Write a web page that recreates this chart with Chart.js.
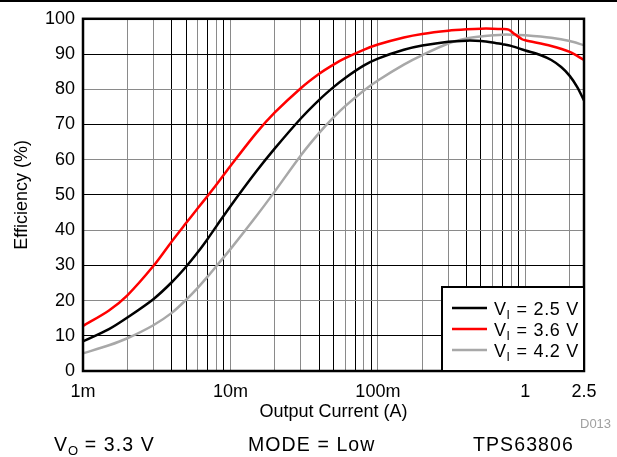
<!DOCTYPE html>
<html>
<head>
<meta charset="utf-8">
<script src="https://cdn.jsdelivr.net/npm/chart.js@4/dist/chart.umd.min.js"></script>
<style>
  html, body { margin: 0; padding: 0; background: #fff; }
  #wrap { position: relative; width: 617px; height: 457px; overflow: hidden; font-family: "Liberation Sans", Arial, sans-serif; }
  #c { position: absolute; left: 0; top: 0; }
  .rule { position: absolute; left: 0; top: 0; width: 617px; height: 2px; background: #000; }
  .cap { position: absolute; font-size: 19.5px; letter-spacing: 1.1px; color: #000; white-space: nowrap; line-height: 20px; }
  .cap sub { font-size: 13px; vertical-align: -4px; line-height: 0; letter-spacing: 0; }
  .code { position: absolute; font-size: 13px; color: #a0a0a0; left: 580px; top: 416px; }
</style>
</head>
<body>
<div id="wrap">
  <canvas id="c" width="617" height="457"></canvas>
  <div class="rule"></div>
  <div class="code">D013</div>
  <div class="cap" style="left:54px; top:434px;">V<sub>O</sub> = 3.3 V</div>
  <div class="cap" style="left:248px; top:434px;">MODE = Low</div>
  <div class="cap" style="left:473px; top:434px;">TPS63806</div>
</div>
<script>
// ---- Data ----
const inputVoltages = ['2.5', '3.6', '4.2'];

const currentVi25 = [0.001,0.0015,0.002,0.003,0.004,0.005,0.006,0.007,0.008,0.01,0.015,0.02,0.03,0.04,0.05,0.06,0.08,0.1,0.15,0.2,0.3,0.4,0.5,0.6,0.7,0.8,1,1.25,1.5,1.75,2,2.25,2.5];
const effVi25     = [8.4,11.9,15.2,20.4,25.2,29.6,33.7,37.5,41.0,46.8,56.7,63.2,71.7,77.0,80.6,83.2,86.7,88.7,91.2,92.4,93.5,93.8,93.7,93.3,92.8,92.3,91.0,89.8,88.3,86.3,83.8,80.6,76.8];

const currentVi36 = [0.001,0.0015,0.002,0.003,0.004,0.005,0.006,0.007,0.008,0.01,0.015,0.02,0.03,0.04,0.05,0.06,0.08,0.1,0.15,0.2,0.3,0.4,0.5,0.6,0.7,0.77,0.85,0.95,1,1.5,2,2.5];
const effVi36     = [12.8,17.2,21.5,29.8,36.8,42.0,46.2,49.7,52.8,58.2,67.6,73.4,80.3,84.4,87.0,88.8,91.2,92.7,94.7,95.7,96.6,97.0,97.2,97.2,97.1,96.9,95.6,94.2,93.9,92.3,90.6,88.3];

const currentVi42 = [0.001,0.0015,0.002,0.003,0.004,0.005,0.006,0.007,0.008,0.01,0.015,0.02,0.03,0.04,0.05,0.06,0.08,0.1,0.15,0.2,0.3,0.4,0.5,0.6,0.7,0.8,1,1.5,2,2.5];
const effVi42     = [5.0,7.3,9.3,13.0,16.5,20.2,23.6,26.8,29.7,34.6,44.0,51.0,61.2,67.6,72.0,75.2,79.6,82.5,87.0,89.7,93.0,94.4,95.0,95.3,95.5,95.5,95.3,94.6,93.7,92.5];

const xGridValues = [0.001,0.002,0.003,0.004,0.005,0.006,0.007,0.008,0.009,
                     0.01,0.02,0.03,0.04,0.05,0.06,0.07,0.08,0.09,
                     0.1,0.2,0.3,0.4,0.5,0.6,0.7,0.8,0.9,
                     1,2,2.5];
const xTickValues = [0.001, 0.01, 0.1, 1, 2.5];
const xTickLabels = ['1m', '10m', '100m', '1', '2.5'];

const seriesColors = ['#000000', '#ff0000', '#a8a8a8'];

const FONT = '"Liberation Sans", Arial, sans-serif';

function toXY(xs, ys) { return xs.map((x, i) => ({ x: x, y: ys[i] })); }

function mantissa(v) {
  const m = v / Math.pow(10, Math.floor(Math.log10(v) + 1e-9));
  return Math.round(m * 10) / 10;
}

const frameAndLegend = {
  id: 'frameAndLegend',
  afterDatasetsDraw(chart) {
    const ctx = chart.ctx;
    const a = chart.chartArea;
    ctx.save();
    ctx.strokeStyle = '#000';
    ctx.lineWidth = 2.5;
    ctx.strokeRect(a.left, a.top, a.right - a.left, a.bottom - a.top);
    const bx = 442, by = 287, bw = a.right - 442, bh = a.bottom - 287;
    ctx.fillStyle = '#fff';
    ctx.fillRect(bx, by, bw, bh);
    ctx.lineWidth = 2;
    ctx.strokeRect(bx, by, bw, bh);
    chart.data.datasets.forEach((ds, i) => {
      const y = by + 21 + i * 21;
      ctx.strokeStyle = ds.borderColor;
      ctx.lineWidth = 2.5;
      ctx.beginPath();
      ctx.moveTo(452, y);
      ctx.lineTo(487, y);
      ctx.stroke();
      ctx.fillStyle = '#000';
      ctx.textBaseline = 'alphabetic';
      ctx.textAlign = 'left';
      let x = 494;
      const base = y + 6.5;
      ctx.font = '18px ' + FONT;
      ctx.fillText('V', x, base);
      x += ctx.measureText('V').width + 0.5;
      ctx.font = '12px ' + FONT;
      ctx.fillText('I', x, base + 4);
      x += ctx.measureText('I').width + 1;
      ctx.font = '18px ' + FONT;
      const rest = ' = ' + inputVoltages[i] + ' V';
      let cx = x;
      for (const ch of rest) {
        ctx.fillText(ch, cx, base);
        cx += ctx.measureText(ch).width + 0.7;
      }
    });
    ctx.restore();
  }
};

new Chart(document.getElementById('c'), {
  type: 'line',
  data: {
    datasets: [
      { label: 'VI = ' + inputVoltages[0] + ' V', data: toXY(currentVi25, effVi25), borderColor: seriesColors[0], order: 2 },
      { label: 'VI = ' + inputVoltages[1] + ' V', data: toXY(currentVi36, effVi36), borderColor: seriesColors[1], order: 1 },
      { label: 'VI = ' + inputVoltages[2] + ' V', data: toXY(currentVi42, effVi42), borderColor: seriesColors[2], order: 3 }
    ]
  },
  options: {
    responsive: false,
    animation: false,
    devicePixelRatio: 1,
    layout: { padding: { left: 0, right: 33, top: 17, bottom: 34 } },
    elements: {
      point: { radius: 0, hoverRadius: 0 },
      line: { borderWidth: 2.5, tension: 0.3, fill: false, capBezierPoints: true }
    },
    plugins: {
      legend: { display: false },
      tooltip: { enabled: false }
    },
    scales: {
      x: {
        type: 'logarithmic',
        min: 0.001,
        max: 2.5,
        afterBuildTicks: (s) => { s.ticks = xGridValues.map(v => ({ value: v })); },
        afterFit: (s) => { s.height = 52; },
        ticks: {
          autoSkip: false,
          maxRotation: 0,
          padding: 10,
          color: '#000',
          font: { family: FONT, size: 18 },
          callback: (v) => {
            const idx = xTickValues.findIndex(t => Math.abs(t - v) < 1e-9);
            return idx >= 0 ? xTickLabels[idx] : '';
          }
        },
        grid: {
          drawTicks: false,
          lineWidth: 1,
          color: (c) => {
            const v = c.tick ? c.tick.value : 1;
            const m = mantissa(v);
            return [4, 5, 7, 9].includes(m) ? '#000000' : '#8a8a8a';
          }
        },
        border: { display: false },
        title: {
          display: true,
          text: 'Output Current (A)',
          color: '#000',
          font: { family: FONT, size: 18 },
          padding: { top: 0, bottom: 0 }
        }
      },
      y: {
        min: 0,
        max: 100,
        afterFit: (s) => { s.width = 83; },
        ticks: {
          stepSize: 10,
          padding: 8,
          color: '#000',
          font: { family: FONT, size: 18 }
        },
        grid: {
          drawTicks: false,
          lineWidth: 1,
          color: (c) => {
            const v = c.tick ? c.tick.value : 0;
            return (Math.round(v / 10) % 2 === 1) ? '#000000' : '#8a8a8a';
          }
        },
        border: { display: false },
        title: {
          display: true,
          text: 'Efficiency (%)',
          color: '#000',
          font: { family: FONT, size: 18 },
          padding: { top: 11, bottom: 0 }
        }
      }
    }
  },
  plugins: [frameAndLegend]
});
</script>
</body>
</html>
